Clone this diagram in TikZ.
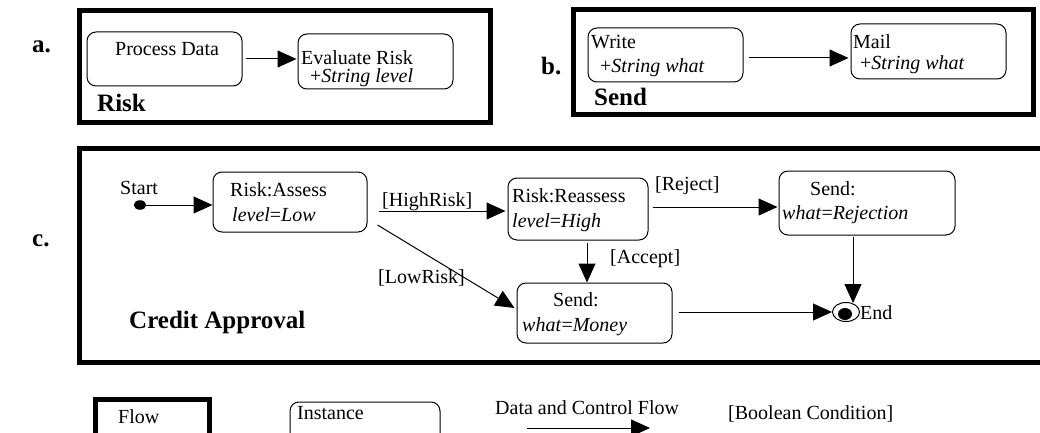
\documentclass[tikz,border=0pt]{standalone}
\usepackage{fontspec}
\setmainfont{Liberation Serif}
\usetikzlibrary{arrows.meta,calc,shapes.geometric}
\begin{document}
\begin{tikzpicture}[x=1pt,y=-1pt,
  frame/.style={draw, line width=5pt, inner sep=0pt},
  inst/.style={draw, line width=1pt, rounded corners=9pt, inner sep=0pt},
  txt/.style={anchor=base west, inner sep=0pt, font=\fontsize{20}{24}\selectfont},
  btxt/.style={anchor=base west, inner sep=0pt, font=\fontsize{25}{30}\selectfont\bfseries},
  arr/.style={line width=1pt, -{Triangle[length=19pt,width=17pt]}}]
\useasboundingbox (0,0) rectangle (1040,433);
\clip (0,0) rectangle (1040,433);
% ---------- a ----------
\node[frame, minimum width=411pt, minimum height=112pt] (fa) at (285,66.5) {};
\node[btxt] (la) at (32,53) {a.};
\node[inst, minimum width=155pt, minimum height=54pt] (pd) at (164.5,59) {};
\node[inst, minimum width=155pt, minimum height=55pt] (er) at (375.5,61.5) {};
\node[txt] (pdt) at (115,56) {Process Data};
\node[txt] (ert1) at (301,65) {Evaluate Risk};
\node[txt] (ert2) at (310,83) {+\textit{String level}};
\node[btxt] (risk) at (97,111) {Risk};
\draw[arr] ($(pd.east)+(3,0)$) -- ($(pd.east -| er.west)+(-1,0)$);
% ---------- b ----------
\node[frame, minimum width=460pt, minimum height=105pt] (fb) at (803.5,62) {};
\node[btxt] (lb) at (541,75) {b.};
\node[inst, minimum width=155pt, minimum height=54pt] (wr) at (665.5,55) {};
\node[inst, minimum width=155pt, minimum height=55pt] (ml) at (928.5,51.5) {};
\node[txt] (wrt1) at (591,49) {Write};
\node[txt] (wrt2) at (600,73) {+\textit{String what}};
\node[txt] (mlt1) at (853,49) {Mail};
\node[txt] (mlt2) at (860,70) {+\textit{String what}};
\node[btxt] (send) at (594,106) {Send};
\draw[arr] ($(wr.east)+(5,3)$) -- ($(wr.east -| ml.west)+(-2,3)$);
% ---------- c ----------
\node[frame, minimum width=985pt, minimum height=214pt] (fc) at (572,255.5) {};
\node[btxt] (lc) at (32,246) {c.};
\node[txt] (stt) at (120,194) {Start};
\node[draw, fill, ellipse, minimum width=12pt, minimum height=9pt, inner sep=0pt] (st) at (140,205) {};
\node[inst, minimum width=154pt, minimum height=60pt] (ra) at (290,202) {};
\node[inst, minimum width=140pt, minimum height=62pt] (rr) at (578,209) {};
\node[inst, minimum width=176pt, minimum height=64pt] (sr) at (867,203) {};
\node[inst, minimum width=155pt, minimum height=60pt] (sm) at (594.5,313) {};
\node[draw, line width=1pt, ellipse, minimum width=27pt, minimum height=19pt, inner sep=0pt] (endc) at (846,312) {};
\node[fill, ellipse, minimum width=14pt, minimum height=12pt, inner sep=0pt] (endd) at (845,314) {};
\node[txt] (endt) at (860,319) {End};
\node[txt] (rat1) at (230,196) {Risk:Assess};
\node[txt] (rat2) at (232,221) {\textit{level}=\textit{Low}};
\node[txt] (rrt1) at (512,202) {Risk:Reassess};
\node[txt] (rrt2) at (512,227) {\textit{level}=\textit{High}};
\node[txt] (srt1) at (810,195) {Send:};
\node[txt] (srt2) at (782,219) {\textit{what}=\textit{Rejection}};
\node[txt] (smt1) at (553,306) {Send:};
\node[txt] (smt2) at (522,331) {\textit{what}=\textit{Money}};
\node[txt] (hr) at (382,206) {[HighRisk]};
\node[txt] (lr) at (378,283) {[LowRisk]};
\node[txt] (rj) at (655,190) {[Reject]};
\node[txt] (ac) at (610,263) {[Accept]};
\node[btxt] (ca) at (129,328) {Credit Approval};
\draw[arr] (st.center) -- (st -| ra.west);
\draw[arr] ($(ra.east)+(11,9)$) -- ($(ra.east -| rr.west)+(-2,9)$);
\draw[arr] ($(ra.east)+(10,23)$) -- ($(sm.west)+(-2,-5)$);
\draw[arr] ($(rr.east)+(4,-2)$) -- ($(rr.east -| sr.west)+(-1,-2)$);
\coordinate (acs) at ($(rr.south)+(9,2)$);
\draw[arr] (acs) -- (acs |- sm.north);
\draw[arr] ($(sm.east)+(6,-1)$) -- (endc.west);
\coordinate (rjs) at ($(sr.south)+(-14,1)$);
\draw[arr] (rjs) -- ($(rjs |- endc.north)+(0,1)$);
% ---------- legend ----------
\node[frame, minimum width=114pt, minimum height=60pt] (flow) at (152.5,429.75) {};
\node[txt] (flowt) at (118,423) {Flow};
\node[inst, minimum width=150pt, minimum height=68pt] (inb) at (365,436) {};
\node[txt] (inbt) at (297,419) {Instance};
\node[txt] (dcf) at (495,414) {Data and Control Flow};
\coordinate (la1) at (527,428);
\coordinate (la2) at (650,428);
\draw[arr] (la1) -- (la2);
\node[txt] (bc) at (728,419) {[Boolean Condition]};
\end{tikzpicture}
\end{document}
